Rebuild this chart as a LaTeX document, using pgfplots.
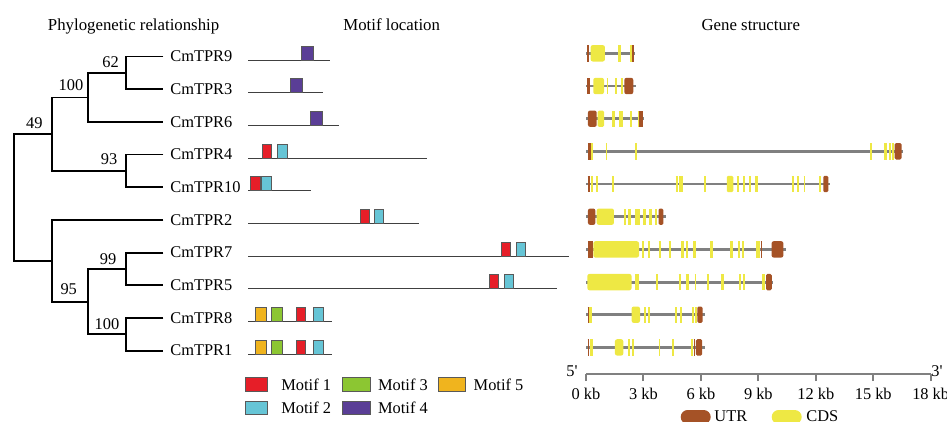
\documentclass[border=0pt]{standalone}
\usepackage{fontspec}
\setmainfont{Liberation Serif}
\usepackage{pgfplots}
\pgfplotsset{compat=1.18}
\definecolor{cds}{RGB}{238,232,68}
\definecolor{utr}{RGB}{165,82,38}
\definecolor{intron}{RGB}{128,128,128}
\definecolor{mA}{RGB}{230,30,40}
\definecolor{mB}{RGB}{102,197,214}
\definecolor{mC}{RGB}{140,198,50}
\definecolor{mD}{RGB}{90,62,150}
\definecolor{mE}{RGB}{240,180,30}
\newcommand\fsz{\fontsize{8.2pt}{9.5pt}\selectfont}
\newcommand\ftit{\fontsize{8.4pt}{9.5pt}\selectfont}
\pgfplotsset{panel/.style={scale only axis, height=211pt, ymin=0, ymax=422, y dir=reverse, hide axis, clip=false, anchor=north west, unbounded coords=jump},
  blkC/.style={fill=cds, draw=none, rounded corners=1.1pt},
  blkCs/.style={fill=cds, draw=none, rounded corners=0.7pt},
  blkU/.style={fill=utr, draw=none, rounded corners=1.1pt},
  blkUs/.style={fill=utr, draw=none, rounded corners=0.7pt}}
\begin{document}
\begin{tikzpicture}
\useasboundingbox (0,0) rectangle (473.5pt,-211pt);
% ---------------- base panel: tree, titles, legends (pixel units)
\begin{axis}[panel, at={(0,0)}, width=473.5pt, xmin=0, xmax=947]
\addplot[black, line width=0.9pt] coordinates {
(163.3,56.5)(126,56.5)(126,89.2)(163.3,89.2) (0,nan)
(126,72.85)(88.3,72.85)(88.3,121.9)(163.3,121.9) (0,nan)
(88.3,97.4)(51.7,97.4)(51.7,170.85)(126,170.85) (0,nan)
(163.3,154.5)(126,154.5)(126,187.2)(163.3,187.2) (0,nan)
(51.7,134.1)(14,134.1)(14,260.75)(51.7,260.75) (0,nan)
(163.3,219.9)(51.7,219.9)(51.7,301.6)(88.3,301.6) (0,nan)
(126,268.95)(88.3,268.95)(88.3,334.25)(126,334.25) (0,nan)
(163.3,252.6)(126,252.6)(126,285.3)(163.3,285.3) (0,nan)
(163.3,317.9)(126,317.9)(126,350.6)(163.3,350.6)
};
% motif legend boxes
\addplot[fill=mA, draw=black!65, line width=0.4pt] coordinates {(245.3,377.7)(267.7,377.7)(267.7,391)(245.3,391)} -- cycle;
\addplot[fill=mC, draw=black!65, line width=0.4pt] coordinates {(342,377.7)(370.3,377.7)(370.3,391)(342,391)} -- cycle;
\addplot[fill=mE, draw=black!65, line width=0.4pt] coordinates {(438.7,377.7)(465.3,377.7)(465.3,391)(438.7,391)} -- cycle;
\addplot[fill=mB, draw=black!65, line width=0.4pt] coordinates {(245.3,401)(267.7,401)(267.7,414.3)(245.3,414.3)} -- cycle;
\addplot[fill=mD, draw=black!65, line width=0.4pt] coordinates {(342,401)(370.3,401)(370.3,414.3)(342,414.3)} -- cycle;
% gene legend pills
\addplot[utr, line width=7pt, line cap=round] coordinates {(687.7,417)(703.7,417)};
\addplot[cds, line width=7pt, line cap=round] coordinates {(778.7,417)(794.7,417)};
% titles
\node[font=\ftit, anchor=base] at (133.6,30.7) {Phylogenetic relationship};
\node[font=\ftit, anchor=base] at (391.7,30.7) {Motif location};
\node[font=\ftit, anchor=base] at (750.8,30.7) {Gene structure};
% bootstrap values
\node[font=\fsz, inner sep=0] at (110.5,61.7) {62};
\node[font=\fsz, inner sep=0] at (71,85.5) {100};
\node[font=\fsz, inner sep=0] at (34.3,123) {49};
\node[font=\fsz, inner sep=0] at (109,159.5) {93};
\node[font=\fsz, inner sep=0] at (68.7,289) {95};
\node[font=\fsz, inner sep=0] at (108,259) {99};
\node[font=\fsz, inner sep=0] at (107,324) {100};
% leaf labels
\node[font=\fsz, inner sep=0, anchor=west] at (170,56.5) {CmTPR9};
\node[font=\fsz, inner sep=0, anchor=west] at (170,89.2) {CmTPR3};
\node[font=\fsz, inner sep=0, anchor=west] at (170,121.9) {CmTPR6};
\node[font=\fsz, inner sep=0, anchor=west] at (170,154.5) {CmTPR4};
\node[font=\fsz, inner sep=0, anchor=west] at (170,187.2) {CmTPR10};
\node[font=\fsz, inner sep=0, anchor=west] at (170,219.9) {CmTPR2};
\node[font=\fsz, inner sep=0, anchor=west] at (170,252.6) {CmTPR7};
\node[font=\fsz, inner sep=0, anchor=west] at (170,285.3) {CmTPR5};
\node[font=\fsz, inner sep=0, anchor=west] at (170,317.9) {CmTPR8};
\node[font=\fsz, inner sep=0, anchor=west] at (170,350.6) {CmTPR1};
% motif legend text
\node[font=\fsz, inner sep=0, anchor=west] at (281,384.3) {Motif 1};
\node[font=\fsz, inner sep=0, anchor=west] at (377.7,384.3) {Motif 3};
\node[font=\fsz, inner sep=0, anchor=west] at (473.3,384.3) {Motif 5};
\node[font=\fsz, inner sep=0, anchor=west] at (281,407.7) {Motif 2};
\node[font=\fsz, inner sep=0, anchor=west] at (377.7,407.7) {Motif 4};
% gene legend text and 5'/3'
\node[font=\fsz, inner sep=0, anchor=base west] at (714,421.5) {UTR};
\node[font=\fsz, inner sep=0, anchor=base west] at (806,421.5) {CDS};
\node[font=\fsz, inner sep=0] at (572,371) {5\textquotesingle};
\node[font=\fsz, inner sep=0] at (937,371) {3\textquotesingle};
\end{axis}
% ---------------- motif panel (aa)
\begin{axis}[panel, at={(124.15pt,0)}, width=160.35pt, xmin=0, xmax=962]
\addplot[black!75, line width=0.5pt] coordinates {
(0,60)(245,60) (0,nan) (0,92.7)(225,92.7) (0,nan) (0,125.4)(273,125.4) (0,nan)
(0,158)(537,158) (0,nan) (0,190.7)(187,190.7) (0,nan) (0,223.4)(512,223.4) (0,nan)
(0,256.1)(962,256.1) (0,nan) (0,288.8)(925,288.8) (0,nan) (0,321.4)(251,321.4) (0,nan)
(0,354.1)(251,354.1)};
% CmTPR9
\addplot[fill=mD, draw=black!65, line width=0.4pt] coordinates {(160,60)(195,60)(195,46)(160,46)} -- cycle;
% CmTPR3
\addplot[fill=mD, draw=black!65, line width=0.4pt] coordinates {(127,92.7)(163,92.7)(163,78.7)(127,78.7)} -- cycle;
% CmTPR6
\addplot[fill=mD, draw=black!65, line width=0.4pt] coordinates {(185,125.4)(222,125.4)(222,111.4)(185,111.4)} -- cycle;
% CmTPR4
\addplot[fill=mA, draw=black!65, line width=0.4pt] coordinates {(41,158)(70,158)(70,144)(41,144)} -- cycle;
\addplot[fill=mB, draw=black!65, line width=0.4pt] coordinates {(88,158)(117,158)(117,144)(88,144)} -- cycle;
% CmTPR10
\addplot[fill=mA, draw=black!65, line width=0.4pt] coordinates {(7,190.7)(35,190.7)(35,176.7)(7,176.7)} -- cycle;
\addplot[fill=mB, draw=black!65, line width=0.4pt] coordinates {(40,190.7)(68,190.7)(68,176.7)(40,176.7)} -- cycle;
% CmTPR2
\addplot[fill=mA, draw=black!65, line width=0.4pt] coordinates {(335,223.4)(364,223.4)(364,209.4)(335,209.4)} -- cycle;
\addplot[fill=mB, draw=black!65, line width=0.4pt] coordinates {(377,223.4)(406,223.4)(406,209.4)(377,209.4)} -- cycle;
% CmTPR7
\addplot[fill=mA, draw=black!65, line width=0.4pt] coordinates {(760,256.1)(787,256.1)(787,242.1)(760,242.1)} -- cycle;
\addplot[fill=mB, draw=black!65, line width=0.4pt] coordinates {(804,256.1)(832,256.1)(832,242.1)(804,242.1)} -- cycle;
% CmTPR5
\addplot[fill=mA, draw=black!65, line width=0.4pt] coordinates {(723,288.8)(751,288.8)(751,274.8)(723,274.8)} -- cycle;
\addplot[fill=mB, draw=black!65, line width=0.4pt] coordinates {(767,288.8)(795,288.8)(795,274.8)(767,274.8)} -- cycle;
% CmTPR8
\addplot[fill=mE, draw=black!65, line width=0.4pt] coordinates {(20,321.4)(53,321.4)(53,307.4)(20,307.4)} -- cycle;
\addplot[fill=mC, draw=black!65, line width=0.4pt] coordinates {(68,321.4)(103,321.4)(103,307.4)(68,307.4)} -- cycle;
\addplot[fill=mA, draw=black!65, line width=0.4pt] coordinates {(143,321.4)(171,321.4)(171,307.4)(143,307.4)} -- cycle;
\addplot[fill=mB, draw=black!65, line width=0.4pt] coordinates {(196,321.4)(225,321.4)(225,307.4)(196,307.4)} -- cycle;
% CmTPR1
\addplot[fill=mE, draw=black!65, line width=0.4pt] coordinates {(20,354.1)(53,354.1)(53,340.1)(20,340.1)} -- cycle;
\addplot[fill=mC, draw=black!65, line width=0.4pt] coordinates {(68,354.1)(103,354.1)(103,340.1)(68,340.1)} -- cycle;
\addplot[fill=mA, draw=black!65, line width=0.4pt] coordinates {(143,354.1)(171,354.1)(171,340.1)(143,340.1)} -- cycle;
\addplot[fill=mB, draw=black!65, line width=0.4pt] coordinates {(196,354.1)(225,354.1)(225,340.1)(196,340.1)} -- cycle;
\end{axis}
% ---------------- gene structure panel (kb)
\begin{axis}[panel, at={(293pt,0)}, width=172.35pt, xmin=0, xmax=18]
% introns
\addplot[intron, line width=1.4pt] coordinates {
(0,53.3)(2.56,53.3) (0,nan) (0,86)(2.59,86) (0,nan) (0,118.7)(3.05,118.7) (0,nan)
(0,151.3)(16.57,151.3) (0,nan) (0,184)(12.74,184) (0,nan) (0,216.7)(4.18,216.7) (0,nan)
(0,249.4)(10.44,249.4) (0,nan) (0,282.1)(9.78,282.1) (0,nan) (0,314.7)(6.21,314.7) (0,nan)
(0,347.4)(6.21,347.4)};
% narrow UTR segments
\addplot[utr, line width=8.2pt] coordinates {
(0.07,53.3)(0.16,53.3) (0,nan) (2.40,53.3)(2.49,53.3) (0,nan)
(0.07,86)(0.21,86) (0,nan)
(2.79,118.7)(2.96,118.7) (0,nan)
(0.10,151.3)(0.24,151.3) (0,nan)
(0.09,184)(0.21,184) (0,nan)
(0.10,249.4)(0.35,249.4) (0,nan) (9.12,249.4)(9.17,249.4) (0,nan)
(0.09,314.7)(0.16,314.7) (0,nan)
(0.09,347.4)(0.17,347.4) (0,nan) (5.62,347.4)(5.67,347.4)};
% narrow CDS segments
\addplot[cds, line width=8.2pt] coordinates {
(1.69,53.3)(1.81,53.3) (0,nan) (2.30,53.3)(2.40,53.3) (0,nan)
(1.08,86)(1.17,86) (0,nan) (1.51,86)(1.60,86) (0,nan) (1.81,86)(1.95,86) (0,nan)
(1.36,118.7)(1.50,118.7) (0,nan) (1.71,118.7)(1.95,118.7) (0,nan) (2.30,118.7)(2.42,118.7) (0,nan) (2.70,118.7)(2.79,118.7) (0,nan)
(0.24,151.3)(0.35,151.3) (0,nan) (1.04,151.3)(1.11,151.3) (0,nan) (2.56,151.3)(2.65,151.3) (0,nan) (14.83,151.3)(14.94,151.3) (0,nan) (15.56,151.3)(15.70,151.3) (0,nan) (15.81,151.3)(15.91,151.3) (0,nan) (15.96,151.3)(16.08,151.3) (0,nan)
(0.24,184)(0.35,184) (0,nan) (0.52,184)(0.61,184) (0,nan) (1.38,184)(1.46,184) (0,nan) (4.68,184)(4.79,184) (0,nan) (4.87,184)(5.05,184) (0,nan) (6.18,184)(6.27,184) (0,nan) (7.87,184)(7.97,184) (0,nan) (8.22,184)(8.32,184) (0,nan) (8.51,184)(8.62,184) (0,nan) (8.83,184)(9.00,184) (0,nan) (10.74,184)(10.84,184) (0,nan) (11.04,184)(11.14,184) (0,nan) (11.36,184)(11.46,184) (0,nan) (12.17,184)(12.29,184) (0,nan)
(1.98,216.7)(2.09,216.7) (0,nan) (2.19,216.7)(2.33,216.7) (0,nan) (2.56,216.7)(2.82,216.7) (0,nan) (2.99,216.7)(3.13,216.7) (0,nan) (3.31,216.7)(3.43,216.7) (0,nan) (3.60,216.7)(3.73,216.7) (0,nan)
(2.92,249.4)(3.05,249.4) (0,nan) (3.22,249.4)(3.34,249.4) (0,nan) (3.79,249.4)(3.90,249.4) (0,nan) (4.32,249.4)(4.42,249.4) (0,nan) (4.98,249.4)(5.10,249.4) (0,nan) (5.22,249.4)(5.33,249.4) (0,nan) (5.60,249.4)(5.73,249.4) (0,nan) (6.48,249.4)(6.61,249.4) (0,nan) (7.52,249.4)(7.66,249.4) (0,nan) (7.94,249.4)(8.04,249.4) (0,nan) (8.15,249.4)(8.25,249.4) (0,nan) (8.88,249.4)(9.09,249.4) (0,nan)
(2.58,282.1)(2.79,282.1) (0,nan) (3.66,282.1)(3.76,282.1) (0,nan) (4.84,282.1)(4.98,282.1) (0,nan) (5.20,282.1)(5.40,282.1) (0,nan) (5.67,282.1)(5.76,282.1) (0,nan) (6.30,282.1)(6.44,282.1) (0,nan) (7.03,282.1)(7.21,282.1) (0,nan) (8.01,282.1)(8.11,282.1) (0,nan) (8.18,282.1)(8.29,282.1) (0,nan) (9.21,282.1)(9.35,282.1) (0,nan)
(0.16,314.7)(0.30,314.7) (0,nan) (3.05,314.7)(3.13,314.7) (0,nan) (3.26,314.7)(3.34,314.7) (0,nan) (4.66,314.7)(4.75,314.7) (0,nan) (4.91,314.7)(5.00,314.7) (0,nan) (5.55,314.7)(5.66,314.7) (0,nan) (5.69,314.7)(5.78,314.7) (0,nan)
(0.21,347.4)(0.35,347.4) (0,nan) (2.21,347.4)(2.30,347.4) (0,nan) (2.38,347.4)(2.49,347.4) (0,nan) (3.81,347.4)(3.88,347.4) (0,nan) (4.51,347.4)(4.60,347.4) (0,nan) (5.48,347.4)(5.60,347.4)};
% wide (rounded) exon blocks
\addplot[blkC] coordinates {(0.24,45.1)(0.99,45.1)(0.99,61.5)(0.24,61.5)} -- cycle;
\addplot[blkC] coordinates {(0.38,77.8)(0.94,77.8)(0.94,94.2)(0.38,94.2)} -- cycle;
\addplot[blkU] coordinates {(2.00,77.8)(2.47,77.8)(2.47,94.2)(2.00,94.2)} -- cycle;
\addplot[blkU] coordinates {(0.10,110.5)(0.56,110.5)(0.56,126.9)(0.10,126.9)} -- cycle;
\addplot[blkCs] coordinates {(0.61,110.5)(0.94,110.5)(0.94,126.9)(0.61,126.9)} -- cycle;
\addplot[blkUs] coordinates {(16.12,143.1)(16.48,143.1)(16.48,159.5)(16.12,159.5)} -- cycle;
\addplot[blkCs] coordinates {(7.35,175.8)(7.69,175.8)(7.69,192.2)(7.35,192.2)} -- cycle;
\addplot[blkUs] coordinates {(12.39,175.8)(12.65,175.8)(12.65,192.2)(12.39,192.2)} -- cycle;
\addplot[blkU] coordinates {(0.10,208.5)(0.49,208.5)(0.49,224.9)(0.10,224.9)} -- cycle;
\addplot[blkC] coordinates {(0.56,208.5)(1.46,208.5)(1.46,224.9)(0.56,224.9)} -- cycle;
\addplot[blkUs] coordinates {(3.79,208.5)(4.04,208.5)(4.04,224.9)(3.79,224.9)} -- cycle;
\addplot[blkC] coordinates {(0.38,241.2)(2.77,241.2)(2.77,257.6)(0.38,257.6)} -- cycle;
\addplot[blkU] coordinates {(9.69,241.2)(10.31,241.2)(10.31,257.6)(9.69,257.6)} -- cycle;
\addplot[blkC] coordinates {(0.07,273.9)(2.38,273.9)(2.38,290.3)(0.07,290.3)} -- cycle;
\addplot[blkUs] coordinates {(9.40,273.9)(9.70,273.9)(9.70,290.3)(9.40,290.3)} -- cycle;
\addplot[blkC] coordinates {(2.38,306.5)(2.82,306.5)(2.82,322.9)(2.38,322.9)} -- cycle;
\addplot[blkUs] coordinates {(5.81,306.5)(6.09,306.5)(6.09,322.9)(5.81,322.9)} -- cycle;
\addplot[blkC] coordinates {(1.51,339.2)(1.95,339.2)(1.95,355.6)(1.51,355.6)} -- cycle;
\addplot[blkUs] coordinates {(5.74,339.2)(6.07,339.2)(6.07,355.6)(5.74,355.6)} -- cycle;
\end{axis}
% ---------------- scale bar
\begin{axis}[scale only axis, at={(293pt,-187pt)}, anchor=south west, width=172.35pt, height=5pt,
  xmin=0, xmax=18, ymin=0, ymax=1, axis x line*=bottom, axis y line=none,
  xtick={0,3,6,9,12,15,18}, xticklabels={0 kb,3 kb,6 kb,9 kb,12 kb,15 kb,18 kb},
  tick align=outside, major tick length=3.5pt,
  x axis line style={draw=intron, line width=1pt}, xtick style={draw=intron, line width=1pt},
  xticklabel style={font=\fsz, text=black}]
\addplot[draw=none] coordinates {(0,0)(18,1)};
\end{axis}
\end{tikzpicture}
\end{document}
